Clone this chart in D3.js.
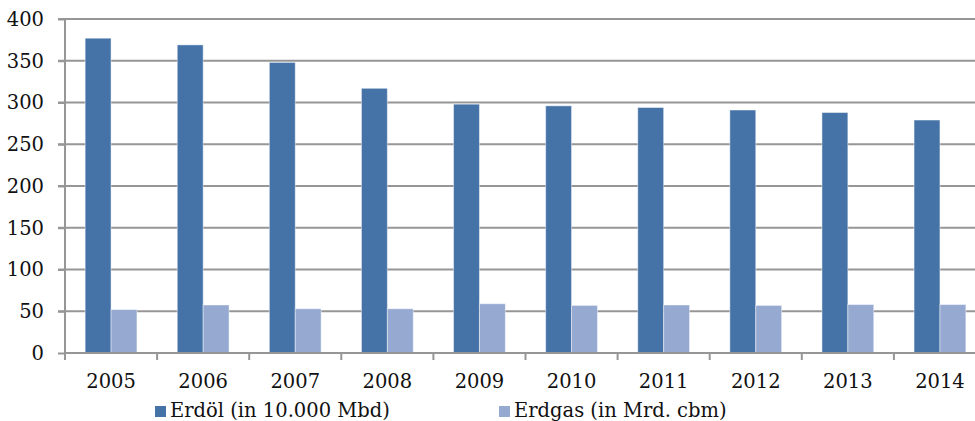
<!DOCTYPE html>
<html>
<head>
<meta charset="utf-8">
<script src="https://cdn.jsdelivr.net/npm/d3@7"></script>
<style>
  html, body { margin: 0; padding: 0; background: #fff; }
  svg { display: block; }
  text { font-family: "DejaVu Serif", Georgia, serif; fill: #111; }
</style>
</head>
<body>
<svg id="chart" width="975" height="421"></svg>
<script>
// Jahre (Kategorien)
const years = ["2005", "2006", "2007", "2008", "2009", "2010", "2011", "2012", "2013", "2014"];
// Förderung Erdöl (in 10.000 Mbd)
const erdoel = [377, 369, 348, 317, 298, 296, 294, 291, 288, 279];
// Förderung Erdgas (in Mrd. cbm)
const erdgas = [52, 57.5, 53, 53, 59, 57, 57.5, 57, 58, 58];
// Serien und Achsenbeschriftung
const seriesNames = ["Erdöl (in 10.000 Mbd)", "Erdgas (in Mrd. cbm)"];
const seriesColors = ["#4573a8", "#95a9d1"];
const yTicks = [0, 50, 100, 150, 200, 250, 300, 350, 400];

const seriesValues = [erdoel, erdgas];
const rows = years.map((y, i) => ({ year: y, values: seriesValues.map(s => s[i]) }));

const fontSize = "19.5px";
const svg = d3.select("#chart");
const plotLeft = 65, plotTop = 19, plotBottom = 353, step = 92.1;
const plotRight = plotLeft + step * years.length;

const x0 = d3.scaleBand().domain(years).range([plotLeft, plotRight]).padding(0);
const x1 = d3.scaleBand().domain(d3.range(seriesNames.length))
  .range([0, x0.bandwidth()]).paddingInner(0).paddingOuter(0.778);
const y = d3.scaleLinear().domain([0, 400]).range([plotBottom, plotTop]);

// Gitterlinien mit kurzen Teilstrichen links
svg.append("g")
  .selectAll("line")
  .data(yTicks.filter(d => d > 0))
  .join("line")
  .attr("x1", plotLeft - 7).attr("x2", 975)
  .attr("y1", d => y(d)).attr("y2", d => y(d))
  .attr("stroke", "#969696").attr("stroke-width", 2);

// Balken
const groups = svg.append("g")
  .selectAll("g")
  .data(rows)
  .join("g")
  .attr("transform", d => `translate(${x0(d.year)},0)`);

groups.selectAll("rect")
  .data(d => d.values.map((v, k) => ({ k, v })))
  .join("rect")
  .attr("x", d => x1(d.k))
  .attr("width", x1.bandwidth())
  .attr("y", d => y(d.v))
  .attr("height", d => y(0) - y(d.v))
  .attr("fill", d => seriesColors[d.k])
  .attr("stroke", "rgba(255,255,255,0.45)")
  .attr("stroke-width", 1);

// Y-Achse
const yAxis = svg.append("g")
  .attr("transform", `translate(${plotLeft},0)`)
  .call(d3.axisLeft(y).tickValues(yTicks).tickSize(7).tickPadding(14).tickFormat(d3.format("d")));
yAxis.select(".domain").attr("stroke", "#969696").attr("stroke-width", 2)
  .attr("d", `M0,${plotTop}V${plotBottom}`);
yAxis.selectAll(".tick line").attr("stroke", "#969696").attr("stroke-width", 2);
yAxis.selectAll(".tick text")
  .style("font-family", '"DejaVu Serif", Georgia, serif')
  .style("font-size", fontSize).attr("fill", "#111");

// X-Achse mit Teilstrichen an den Kategoriegrenzen
const boundaries = years.map(yr => x0(yr)).concat([plotRight]);
const xAxis = svg.append("g");
xAxis.append("line")
  .attr("x1", plotLeft).attr("x2", 975)
  .attr("y1", plotBottom).attr("y2", plotBottom)
  .attr("stroke", "#969696").attr("stroke-width", 2);
xAxis.selectAll("line.tick")
  .data(boundaries)
  .join("line")
  .attr("class", "tick")
  .attr("x1", d => d).attr("x2", d => d)
  .attr("y1", plotBottom).attr("y2", plotBottom + 7)
  .attr("stroke", "#969696").attr("stroke-width", 2);
xAxis.selectAll("text")
  .data(years)
  .join("text")
  .attr("x", d => x0(d) + x0.bandwidth() / 2)
  .attr("y", 388)
  .attr("text-anchor", "middle")
  .style("font-size", fontSize)
  .text(d => d);

// Legende
const legendX = [155, 499];
const legend = svg.append("g")
  .selectAll("g")
  .data(seriesNames)
  .join("g")
  .attr("transform", (d, i) => `translate(${legendX[i]},0)`);
legend.append("rect")
  .attr("x", 0).attr("y", 406).attr("width", 11).attr("height", 11)
  .attr("fill", (d, i) => seriesColors[i]);
legend.append("text")
  .attr("x", 15).attr("y", 417)
  .style("font-size", fontSize)
  .text(d => d);
</script>
</body>
</html>
